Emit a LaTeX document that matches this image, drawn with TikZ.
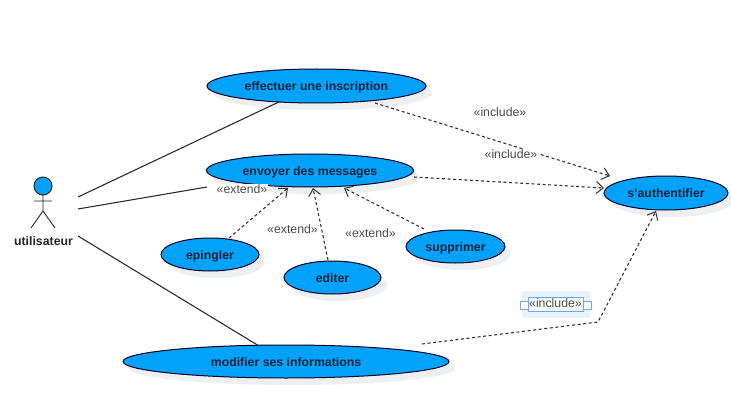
\documentclass[tikz,border=0pt]{standalone}
\usepackage{fontspec}
\setmainfont{Liberation Sans}
\usetikzlibrary{shapes.geometric,arrows.meta}
\definecolor{ucblue}{HTML}{00A2FB}
\definecolor{ucshadow}{HTML}{EDEFF1}
\definecolor{uctext}{HTML}{10243A}
\definecolor{lblgray}{HTML}{4A4A4A}
\definecolor{selblue}{HTML}{6FA8F0}
\definecolor{selpale}{HTML}{E8F1FD}
\tikzset{
  x=1pt,y=-1pt,
  usecase/.style={ellipse,draw=black!85!blue,line width=1pt,fill=ucblue,inner sep=0pt,outer sep=0pt,
    text=uctext,text height=10pt,text depth=0.5pt,font=\fontsize{12.3}{14}\selectfont\bfseries},
  ucshade/.style={ellipse,fill=ucshadow,inner sep=0pt,outer sep=0pt},
  assoc/.style={draw=black!85,line width=1.05pt},
  dep/.style={draw=black!80,line width=1.1pt,dash pattern=on 3pt off 2.6pt,
    -{Straight Barb[length=7pt,width=12pt,line width=1pt]}},
  stereo/.style={text=lblgray,font=\fontsize{12.3}{14}\selectfont,inner sep=0.5pt},
}
\newcommand{\ucase}[6]{% name, x, y, width, height, text
  \node[ucshade,minimum width=#4pt,minimum height=#5pt] at (#2+6,#3+7) {};
  \node[usecase,minimum width=#4pt,minimum height=#5pt] (#1) at (#2,#3) {#6};
}
\begin{document}
\begin{tikzpicture}
\useasboundingbox (0,0) rectangle (731,401);
\fill[white] (0,0) rectangle (731,401);

\ucase{insc}{316.5}{86}{219}{34}{effectuer une inscription}
\ucase{msg}{310}{170.5}{207}{33}{envoyer des messages}
\ucase{auth}{666}{193}{124}{34}{s'authentifier}
\ucase{epin}{210}{254.5}{98}{33}{epingler}
\ucase{edit}{332.5}{277.5}{97}{33}{editer}
\ucase{supp}{455.5}{246.5}{99}{33}{supprimer}
\ucase{modif}{286}{361.5}{326}{33}{modifier ses informations}

% actor
\node[circle,draw=black!85,line width=1pt,fill=ucblue,minimum size=18pt,inner sep=0pt,outer sep=0pt] (head) at (43,186) {};
\coordinate (hip) at (43,211);
\coordinate (armL) at (34,201);
\coordinate (armR) at (52,201);
\coordinate (legL) at (31,228);
\coordinate (legR) at (55,228);
\draw[assoc,line width=0.9pt] (head.south) -- (hip) (armL) -- (armR) (legL) -- (hip) -- (legR);
\node[text=black!85,text height=10pt,text depth=0.5pt,font=\fontsize{12.3}{14}\selectfont\bfseries,inner sep=0pt] (actor) at (43.5,241) {utilisateur};

% actor side ends
\coordinate (a1) at (78,197);
\coordinate (a2) at (78,209);
\coordinate (a3) at (78,236);
\coordinate (m1) at (207,187);
\draw[assoc] (a1) -- (insc.-157);
\draw[assoc] (a2) -- (m1);
\draw[assoc] (a3) -- (modif.150);

% dependencies
\coordinate (t1) at (610,176);
\coordinate (t2) at (604,188);
\coordinate (s1) at (375,103);
\coordinate (s2) at (414,177);
\coordinate (t3) at (288,188);
\coordinate (t4) at (313,188);
\coordinate (t5) at (344,188);
\coordinate (s3) at (229,238);
\coordinate (s4) at (328,260);
\coordinate (s5) at (424,229);
\coordinate (s6) at (422,344);
\coordinate (bend) at (598,322);
\coordinate (t6) at (656,211);
\draw[dep] (s1) -- (t1);
\draw[dep] (s2) -- (t2);
\draw[dep] (s3) -- (t3);
\draw[dep] (s4) -- (t4);
\draw[dep] (s5) -- (t5);
\draw[dep] (s6) -- (bend) -- (t6);

% labels
\node[stereo] (l1) at (500,112) {«include»};
\node[stereo,fill=white] (l2) at (511,154) {«include»};
\node[stereo,fill=white] (l3) at (242,189) {«extend»};
\node[stereo] (l4) at (292.5,229) {«extend»};
\node[stereo] (l5) at (370.5,233) {«extend»};

% selected label
\fill[selpale] (521.5,291) rectangle (590,318);
\draw[selblue,line width=0.9pt,fill=white] (528,297) rectangle (583,311);
\draw[selblue,line width=0.9pt,fill=white] (520,301.5) rectangle (528,309);
\draw[selblue,line width=0.9pt,fill=white] (583,301.5) rectangle (591,309);
\node[stereo] (l6) at (555.5,303.5) {«include»};
\end{tikzpicture}
\end{document}
